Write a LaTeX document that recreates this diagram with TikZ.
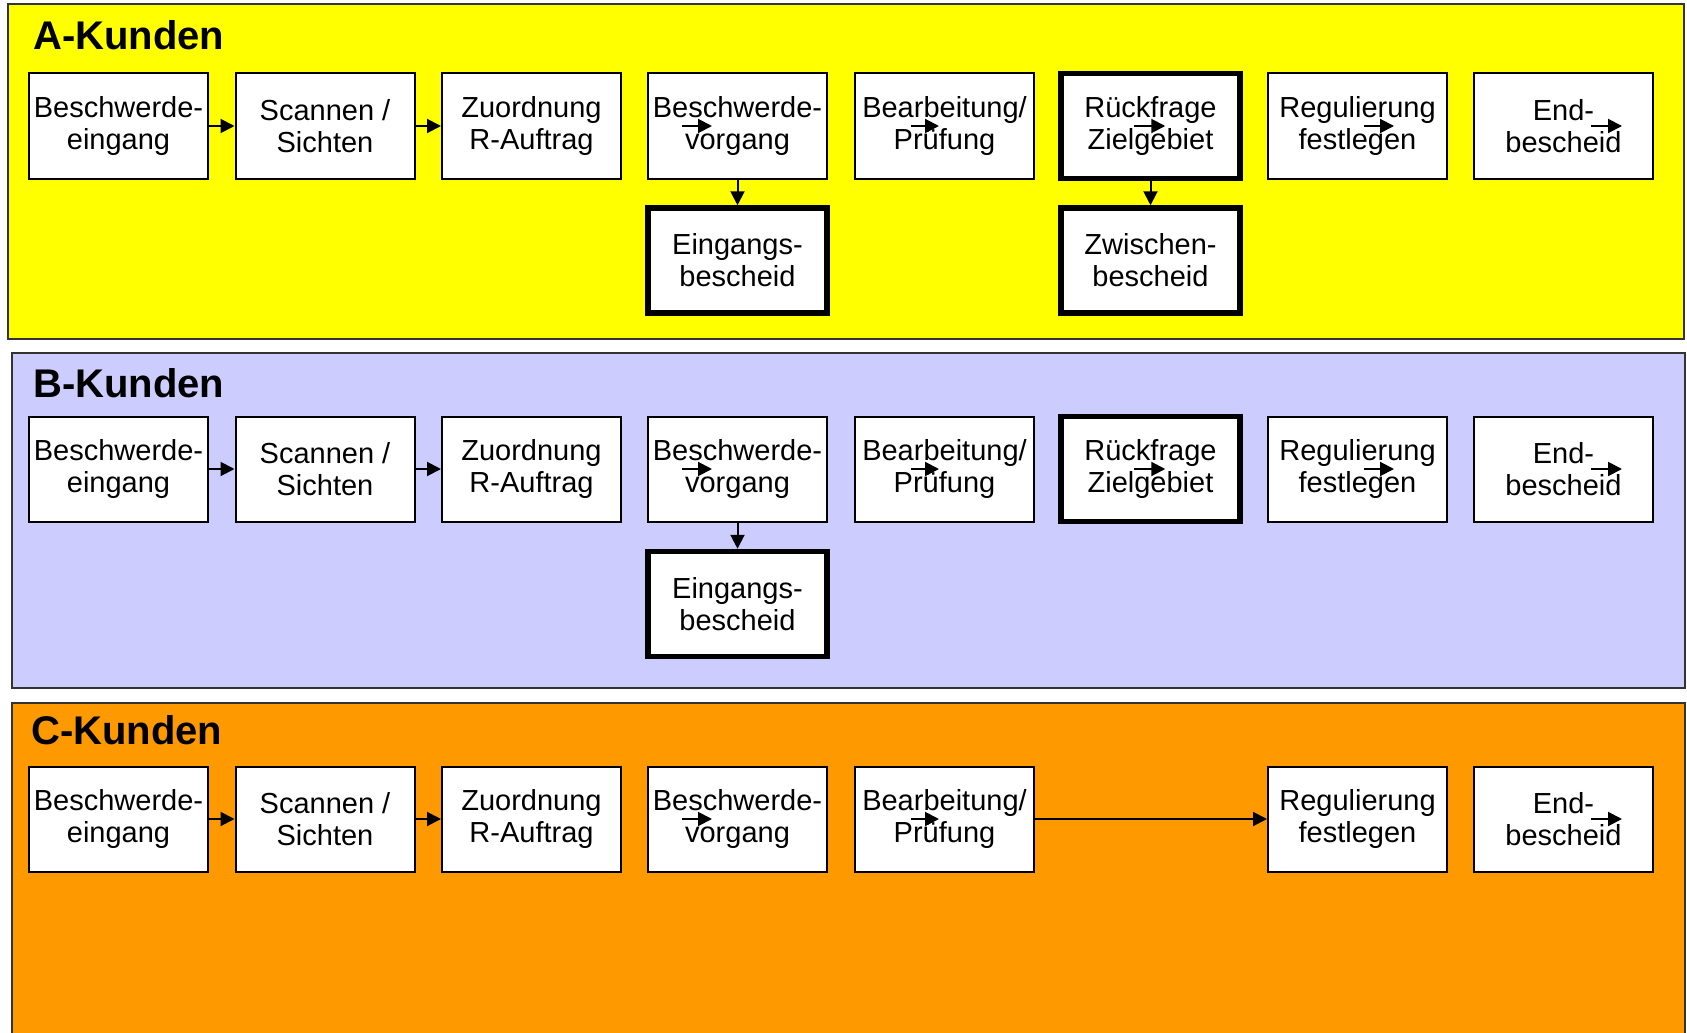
\documentclass[tikz,border=0pt]{standalone}
\usepackage{fontspec}
\setmainfont{Liberation Sans}
\usetikzlibrary{arrows.meta}
\definecolor{panelA}{HTML}{FFFF00}
\definecolor{panelB}{HTML}{CCCCFF}
\definecolor{panelC}{HTML}{FF9900}
\definecolor{panelline}{HTML}{333333}
\begin{document}
\begin{tikzpicture}[x=1pt,y=-1pt,
  box/.style={draw=black, line width=2pt, fill=white, minimum width=179pt, minimum height=105pt, inner sep=0pt, align=center, font=\fontsize{29}{32}\selectfont},
  thickbox/.style={box, line width=5.5pt},
  conn/.style={line width=2pt, -{Triangle[length=14pt,width=14pt]}},
  panel/.style={draw=panelline, line width=2pt},
  title/.style={anchor=base west, inner sep=0pt, font=\fontsize{40}{44}\selectfont\bfseries}]
\useasboundingbox (0,0) rectangle (1687,1033);
\fill[white] (0,0) rectangle (1687,1033);
% panels
\fill[panelA] (8,4) rectangle (1684,339);
\draw[panel] (8,4) rectangle (1684,339);
\fill[panelB] (12,353) rectangle (1685,688);
\draw[panel] (12,353) rectangle (1685,688);
\fill[panelC] (12,703) rectangle (1685,1033);
\draw[panel] (12,1040) -- (12,703) -- (1685,703) -- (1685,1040);
% titles
\node[title] (ta) at (33,50) {A-Kunden};
\node[title] (tb) at (33,397) {B-Kunden};
\node[title] (tc) at (31,744) {C-Kunden};
% row A
\node[box] (a1) at (118.5,126) {Beschwerde-\\eingang};
\node[box] (a2) at (325,126) {Scannen /\\Sichten};
\node[box] (a3) at (531.5,126) {Zuordnung\\R-Auftrag};
\node[box] (a4) at (737.5,126) {Beschwerde-\\vorgang};
\node[box] (a5) at (944.5,126) {Bearbeitung/\\Prüfung};
\node[thickbox] (a6) at (1150.5,126) {Rückfrage\\Zielgebiet};
\node[box] (a7) at (1357.5,126) {Regulierung\\festlegen};
\node[box] (a8) at (1563.5,126) {End-\\bescheid};
\node[thickbox] (ae) at (737.5,260.5) {Eingangs-\\bescheid};
\node[thickbox] (az) at (1150.5,260.5) {Zwischen-\\bescheid};
\draw[conn] (a1.east) -- (a2.west);
\draw[conn] (a2.east) -- (a3.west);
\draw[conn] ([xshift=35pt]a4.west) -- ([xshift=65pt]a4.west);
\draw[conn] ([xshift=57pt]a5.west) -- ([xshift=85pt]a5.west);
\draw[conn] ([xshift=76pt]a6.west) -- ([xshift=107pt]a6.west);
\draw[conn] ([xshift=97pt]a7.west) -- ([xshift=127pt]a7.west);
\draw[conn] ([xshift=118pt]a8.west) -- ([xshift=149pt]a8.west);
\draw[conn] (a4.south) -- (ae.north);
\draw[conn] (a6.south) -- (az.north);
% row B
\node[box] (b1) at (118.5,469) {Beschwerde-\\eingang};
\node[box] (b2) at (325,469) {Scannen /\\Sichten};
\node[box] (b3) at (531.5,469) {Zuordnung\\R-Auftrag};
\node[box] (b4) at (737.5,469) {Beschwerde-\\vorgang};
\node[box] (b5) at (944.5,469) {Bearbeitung/\\Prüfung};
\node[thickbox] (b6) at (1150.5,469) {Rückfrage\\Zielgebiet};
\node[box] (b7) at (1357.5,469) {Regulierung\\festlegen};
\node[box] (b8) at (1563.5,469) {End-\\bescheid};
\node[thickbox] (be) at (737.5,604) {Eingangs-\\bescheid};
\draw[conn] (b1.east) -- (b2.west);
\draw[conn] (b2.east) -- (b3.west);
\draw[conn] ([xshift=35pt]b4.west) -- ([xshift=65pt]b4.west);
\draw[conn] ([xshift=57pt]b5.west) -- ([xshift=85pt]b5.west);
\draw[conn] ([xshift=76pt]b6.west) -- ([xshift=107pt]b6.west);
\draw[conn] ([xshift=97pt]b7.west) -- ([xshift=127pt]b7.west);
\draw[conn] ([xshift=118pt]b8.west) -- ([xshift=149pt]b8.west);
\draw[conn] (b4.south) -- (be.north);
% row C
\node[box] (c1) at (118.5,819) {Beschwerde-\\eingang};
\node[box] (c2) at (325,819) {Scannen /\\Sichten};
\node[box] (c3) at (531.5,819) {Zuordnung\\R-Auftrag};
\node[box] (c4) at (737.5,819) {Beschwerde-\\vorgang};
\node[box] (c5) at (944.5,819) {Bearbeitung/\\Prüfung};
\node[box] (c7) at (1357.5,819) {Regulierung\\festlegen};
\node[box] (c8) at (1563.5,819) {End-\\bescheid};
\draw[conn] (c1.east) -- (c2.west);
\draw[conn] (c2.east) -- (c3.west);
\draw[conn] ([xshift=35pt]c4.west) -- ([xshift=65pt]c4.west);
\draw[conn] ([xshift=57pt]c5.west) -- ([xshift=85pt]c5.west);
\draw[conn] (c5.east) -- (c7.west);
\draw[conn] ([xshift=118pt]c8.west) -- ([xshift=149pt]c8.west);
\end{tikzpicture}
\end{document}
